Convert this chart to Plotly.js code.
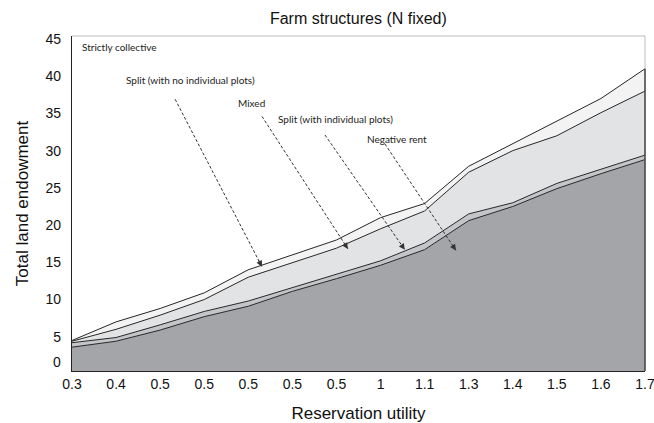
<!DOCTYPE html>
<html>
<head>
<meta charset="utf-8">
<script src="https://cdn.plot.ly/plotly-3.0.1.min.js"></script>
<style>html,body{margin:0;padding:0;background:#fff;}#chart{width:654px;height:423px;}</style>
</head>
<body>
<div id="chart"></div>
<script>
// Tick labels (categories, shown in order; some repeat)
const xLabels = ["0.3","0.4","0.5","0.5","0.5","0.5","0.5","1","1.1","1.3","1.4","1.5","1.6","1.7"];
// Boundary lines, top to bottom
const strictlyCollective = [4.1, 6.6, 8.4, 10.5, 13.6, 15.6, 17.6, 20.6, 22.5, 27.5, 30.5, 33.6, 36.6, 40.6];
const splitNoPlots       = [4.0, 5.6, 7.5, 9.6, 12.6, 14.6, 16.5, 19.1, 21.5, 26.7, 29.6, 31.6, 34.7, 37.6];
const mixedBoundary      = [3.8, 4.5, 6.2, 8.0, 9.4, 11.2, 12.9, 14.8, 17.2, 21.1, 22.6, 25.2, 27.1, 29.0];
const splitPlots         = [3.2, 4.0, 5.5, 7.3, 8.7, 10.7, 12.4, 14.2, 16.3, 20.2, 22.1, 24.5, 26.5, 28.4];
const yTicks = [5, 10, 15, 20, 25, 30, 35, 40, 45];

const xIdx = xLabels.map((_, i) => i);
const lineStyle = {color: "#262626", width: 1};

const traces = [
  {x: xIdx, y: splitPlots, type: "scatter", mode: "lines", fill: "tozeroy", fillcolor: "#a4a5a8", line: lineStyle, hoverinfo: "skip"},
  {x: xIdx, y: mixedBoundary, type: "scatter", mode: "lines", fill: "tonexty", fillcolor: "#c4c5c8", line: lineStyle, hoverinfo: "skip"},
  {x: xIdx, y: splitNoPlots, type: "scatter", mode: "lines", fill: "tonexty", fillcolor: "#e2e3e5", line: lineStyle, hoverinfo: "skip"},
  {x: xIdx, y: strictlyCollective, type: "scatter", mode: "lines", fill: "tonexty", fillcolor: "#f3f3f3", line: lineStyle, hoverinfo: "skip"}
];

const labelFont = {family: "Lato, 'Open Sans', sans-serif", size: 10, color: "#222"};
const labels = [
  {text: "Strictly collective", x: 0.18, y: 43.5, xanchor: "left"},
  {text: "Split (with no individual plots)", x: 2.68, y: 39.1, xanchor: "center"},
  {text: "Mixed", x: 4.08, y: 36.0, xanchor: "center"},
  {text: "Split (with individual plots)", x: 5.97, y: 33.8, xanchor: "center"},
  {text: "Negative rent", x: 7.37, y: 31.1, xanchor: "center"}
];
// dashed pointers: tail -> head
const pointers = [
  [2.34, 36.5, 4.31, 14.0],
  [4.31, 34.2, 6.26, 16.4],
  [5.74, 31.7, 7.55, 16.3],
  [7.10, 30.5, 8.71, 16.2]
];

const annotations = labels.map(l => ({
  text: l.text, x: l.x, y: l.y, xref: "x", yref: "y", xanchor: l.xanchor, yanchor: "middle",
  showarrow: false, font: labelFont
}));
// zero label sits slightly above the axis, as in the reference
annotations.push({text: "0", x: 0, y: 0, xref: "paper", yref: "y", xanchor: "right", yanchor: "bottom",
  xshift: -9, yshift: -1, showarrow: false, font: {family: "'Liberation Sans', Arial, sans-serif", size: 14, color: "#111"}});
const shapes = [];
pointers.forEach(p => {
  shapes.push({type: "line", xref: "x", yref: "y", x0: p[0], y0: p[1], x1: p[2], y1: p[3],
    line: {color: "#333", width: 1, dash: "3px,2px"}});
  const t = 0.05;
  annotations.push({x: p[2], y: p[3], ax: p[2] - (p[2]-p[0])*t, ay: p[3] - (p[3]-p[1])*t,
    xref: "x", yref: "y", axref: "x", ayref: "y", text: "", showarrow: true,
    arrowhead: 2, arrowsize: 1.2, arrowwidth: 1, arrowcolor: "#333"});
});
// frame: light top/right border, dark right edge up to top boundary
shapes.push({type: "line", xref: "paper", yref: "paper", x0: 0, x1: 1, y0: 1, y1: 1, line: {color: "#bdbdbd", width: 1}});
shapes.push({type: "line", xref: "paper", yref: "paper", x0: 1, x1: 1, y0: 0, y1: 1, line: {color: "#bdbdbd", width: 1}});
shapes.push({type: "line", xref: "paper", yref: "y", x0: 1, x1: 1, y0: 0, y1: strictlyCollective[strictlyCollective.length-1], line: {color: "#222", width: 1.2}});

const layout = {
  width: 654, height: 423,
  margin: {l: 72, r: 9, t: 36, b: 52},
  paper_bgcolor: "#fff", plot_bgcolor: "#fff",
  showlegend: false,
  font: {family: "'Liberation Sans', Arial, sans-serif", color: "#111"},
  title: {text: "Farm structures (N fixed)", x: 0.548, xanchor: "center", y: 0.957, yanchor: "middle",
          font: {family: "'Liberation Sans', Arial, sans-serif", size: 16, color: "#111"}},
  xaxis: {
    range: [0, 13], tickmode: "array", tickvals: xIdx, ticktext: xLabels,
    showgrid: false, zeroline: false, showline: true, linecolor: "#222", linewidth: 1.2,
    ticks: "", tickfont: {size: 14, color: "#111"}, ticklabeloverflow: "allow",
    title: {text: "Reservation utility", font: {size: 17, color: "#111"}, standoff: 16}
  },
  yaxis: {
    range: [0, 45], tickmode: "array", tickvals: yTicks, ticktext: yTicks.map(String),
    showgrid: false, zeroline: false, showline: true, linecolor: "#222", linewidth: 1.2,
    ticks: "", tickfont: {size: 14, color: "#111"}, ticklabelstandoff: 7, ticklabelshift: 3,
    title: {text: "Total land endowment", font: {size: 17, color: "#111"}, standoff: 12}
  },
  annotations: annotations,
  shapes: shapes
};

Plotly.newPlot("chart", traces, layout, {displayModeBar: false, staticPlot: true});
</script>
</body>
</html>
